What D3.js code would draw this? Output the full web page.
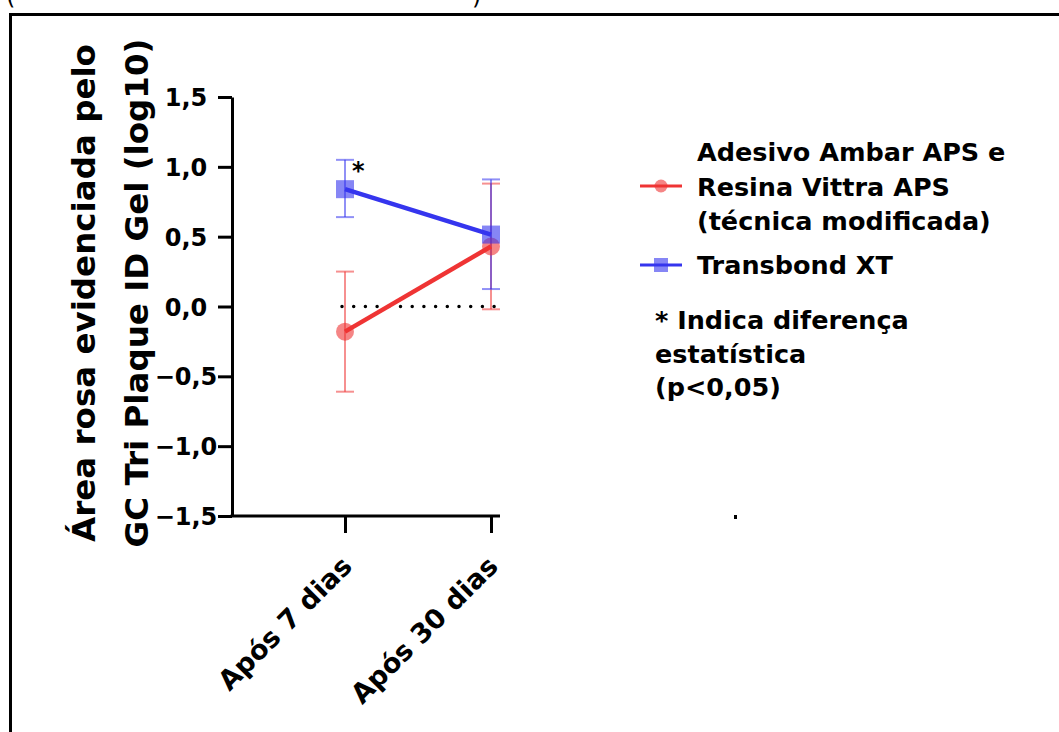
<!DOCTYPE html>
<html>
<head>
<meta charset="utf-8">
<script src="https://cdn.jsdelivr.net/npm/d3@7"></script>
<style>
  body { margin: 0; background: #fff; }
  svg { display: block; font-family: "DejaVu Sans", Verdana, sans-serif; font-weight: bold; }
</style>
</head>
<body>
<div id="vis"></div>
<script>
// categories and values
const categories = ["Após 7 dias", "Após 30 dias"];
const seriesNames = ["Adesivo Ambar APS e|Resina Vittra APS|(técnica modificada)", "Transbond XT"];
const adesivoMean = [-0.18, 0.43];
const adesivoLow = [-0.61, -0.02];
const adesivoHigh = [0.25, 0.88];
const transbondMean = [0.84, 0.515];
const transbondLow = [0.64, 0.125];
const transbondHigh = [1.05, 0.91];
const yTicks = [-1.5, -1.0, -0.5, 0, 0.5, 1.0, 1.5];
const significant = [true, false]; // star over Transbond
const noteLines = ["* Indica diferença", "estatística", "(p<0,05)"];

const width = 1059;
const height = 732;

// plot box
const plotLeft = 232, plotRight = 500, plotTop = 97, plotBottom = 516;

const red = "#ef3434";
const blue = "#3535ee";

const svg = d3.select("#vis").append("svg")
  .attr("width", width)
  .attr("height", height);

// outer frame, cut off by the screenshot
svg.append("rect")
  .attr("x", 10.5).attr("y", 14.5)
  .attr("width", 1200).attr("height", 900)
  .attr("fill", "none").attr("stroke", "#000").attr("stroke-width", 3);

// bits of the caption above the frame
svg.append("text").attr("x", 6).attr("y", 4).attr("font-size", 24).attr("font-weight", "normal").text("(");
svg.append("text").attr("x", 472).attr("y", 4).attr("font-size", 24).attr("font-weight", "normal").text(")");

const y = d3.scaleLinear().domain([-1.5, 1.5]).range([plotBottom, plotTop]);
const x = d3.scalePoint().domain(categories).range([345, 491]);

const fmt = (d) => d3.format(".1f")(d).replace(".", ",").replace("-", "\u2212");

// y axis
const yAxis = svg.append("g")
  .attr("transform", `translate(${plotLeft},0)`)
  .call(d3.axisLeft(y).tickValues(yTicks).tickSize(14).tickSizeOuter(0).tickFormat(fmt));
yAxis.select(".domain").attr("stroke-width", 3);
yAxis.selectAll(".tick line").attr("stroke-width", 3);
yAxis.selectAll(".tick text")
  .attr("x", -46)
  .attr("dy", "0.36em")
  .attr("text-anchor", "middle")
  .attr("font-size", 24)
  .attr("font-family", "DejaVu Sans")
  .attr("font-weight", "bold")
  .attr("fill", "#000");

// x axis
const xAxis = svg.append("g")
  .attr("transform", `translate(0,${plotBottom})`)
  .call(d3.axisBottom(x).tickSize(17).tickSizeOuter(0));
xAxis.select(".domain").remove();
xAxis.append("line")
  .attr("x1", plotLeft - 1.5).attr("x2", plotRight)
  .attr("stroke", "#000").attr("stroke-width", 3);
xAxis.selectAll(".tick line").attr("stroke-width", 3);
xAxis.selectAll(".tick text")
  .attr("text-anchor", "end")
  .attr("y", 0).attr("dy", 0)
  .attr("transform", "translate(8,52) rotate(-45)")
  .attr("font-size", 27)
  .attr("font-family", "DejaVu Sans")
  .attr("font-weight", "bold")
  .attr("fill", "#000");

// y title
const yTitle = svg.append("g")
  .attr("font-size", 32.5)
  .attr("text-anchor", "middle");
["Área rosa evidenciada pelo", "GC Tri Plaque ID Gel (log10)"].forEach((t, i) => {
  yTitle.append("text")
    .attr("transform", `translate(${95 + i * 53},293) rotate(-90)`)
    .text(t);
});

// clip: the data only shows between the first point and the axis end
svg.append("clipPath").attr("id", "plotclip")
  .append("rect")
  .attr("x", 336).attr("y", plotTop - 20)
  .attr("width", plotRight - 336).attr("height", plotBottom - plotTop + 40);

const plot = svg.append("g").attr("clip-path", "url(#plotclip)");

// dotted zero line
plot.append("line")
  .attr("x1", x(categories[0]) - 3).attr("x2", plotRight)
  .attr("y1", y(0)).attr("y2", y(0))
  .attr("stroke", "#000").attr("stroke-width", 3.5)
  .attr("stroke-linecap", "round")
  .attr("stroke-dasharray", "0 11.7");

const series = [
  { name: seriesNames[0], color: red, mean: adesivoMean, low: adesivoLow, high: adesivoHigh, shape: "circle" },
  { name: seriesNames[1], color: blue, mean: transbondMean, low: transbondLow, high: transbondHigh, shape: "square" }
];

const line = d3.line()
  .x((d) => x(d.cat))
  .y((d) => y(d.v));

function points(s) {
  return categories.map((c, i) => ({ cat: c, v: s.mean[i], lo: s.low[i], hi: s.high[i] }));
}

// error bars
series.forEach((s) => {
  const g = plot.append("g")
    .attr("stroke", s.color)
    .attr("stroke-opacity", 0.55)
    .attr("stroke-width", 2);
  points(s).forEach((p) => {
    const cx = x(p.cat);
    g.append("line").attr("x1", cx).attr("x2", cx).attr("y1", y(p.lo)).attr("y2", y(p.hi));
    g.append("line").attr("x1", cx - 9).attr("x2", cx + 9).attr("y1", y(p.lo)).attr("y2", y(p.lo));
    g.append("line").attr("x1", cx - 9).attr("x2", cx + 9).attr("y1", y(p.hi)).attr("y2", y(p.hi));
  });
});

// lines and markers
series.forEach((s) => {
  plot.append("path")
    .datum(points(s))
    .attr("d", line)
    .attr("fill", "none")
    .attr("stroke", s.color)
    .attr("stroke-width", 4.5);
  points(s).forEach((p) => {
    if (s.shape === "circle") {
      plot.append("circle")
        .attr("cx", x(p.cat)).attr("cy", y(p.v)).attr("r", 9)
        .attr("fill", s.color).attr("fill-opacity", 0.6);
    } else {
      plot.append("rect")
        .attr("x", x(p.cat) - 9).attr("y", y(p.v) - 9)
        .attr("width", 18).attr("height", 18)
        .attr("fill", s.color).attr("fill-opacity", 0.6);
    }
  });
});

// significance star
categories.forEach((c, i) => {
  if (!significant[i]) return;
  svg.append("text")
    .attr("x", x(c) + 7)
    .attr("y", y(transbondHigh[i]) + 19)
    .attr("font-size", 24)
    .text("*");
});

// legend
const legend = svg.append("g").attr("font-size", 25.5);
const legendRows = [
  { s: series[0], lines: seriesNames[0].split("|"), markerY: 186, firstBase: 161 },
  { s: series[1], lines: seriesNames[1].split("|"), markerY: 265, firstBase: 274 }
];
legendRows.forEach((r) => {
  legend.append("line")
    .attr("x1", 640).attr("x2", 682)
    .attr("y1", r.markerY).attr("y2", r.markerY)
    .attr("stroke", r.s.color).attr("stroke-width", 3);
  if (r.s.shape === "circle") {
    legend.append("circle").attr("cx", 661).attr("cy", r.markerY).attr("r", 6.5)
      .attr("fill", r.s.color).attr("fill-opacity", 0.6);
  } else {
    legend.append("rect").attr("x", 654).attr("y", r.markerY - 7).attr("width", 14).attr("height", 14)
      .attr("fill", r.s.color).attr("fill-opacity", 0.6);
  }
  r.lines.forEach((t, i) => {
    legend.append("text").attr("x", 697).attr("y", r.firstBase + i * 34.5).text(t);
  });
});
noteLines.forEach((t, i) => {
  legend.append("text").attr("x", 655).attr("y", 329 + i * 33.5).text(t);
});

// stray dot under the legend
svg.append("rect").attr("x", 734).attr("y", 515).attr("width", 3).attr("height", 4).attr("fill", "#000");
</script>
</body>
</html>
